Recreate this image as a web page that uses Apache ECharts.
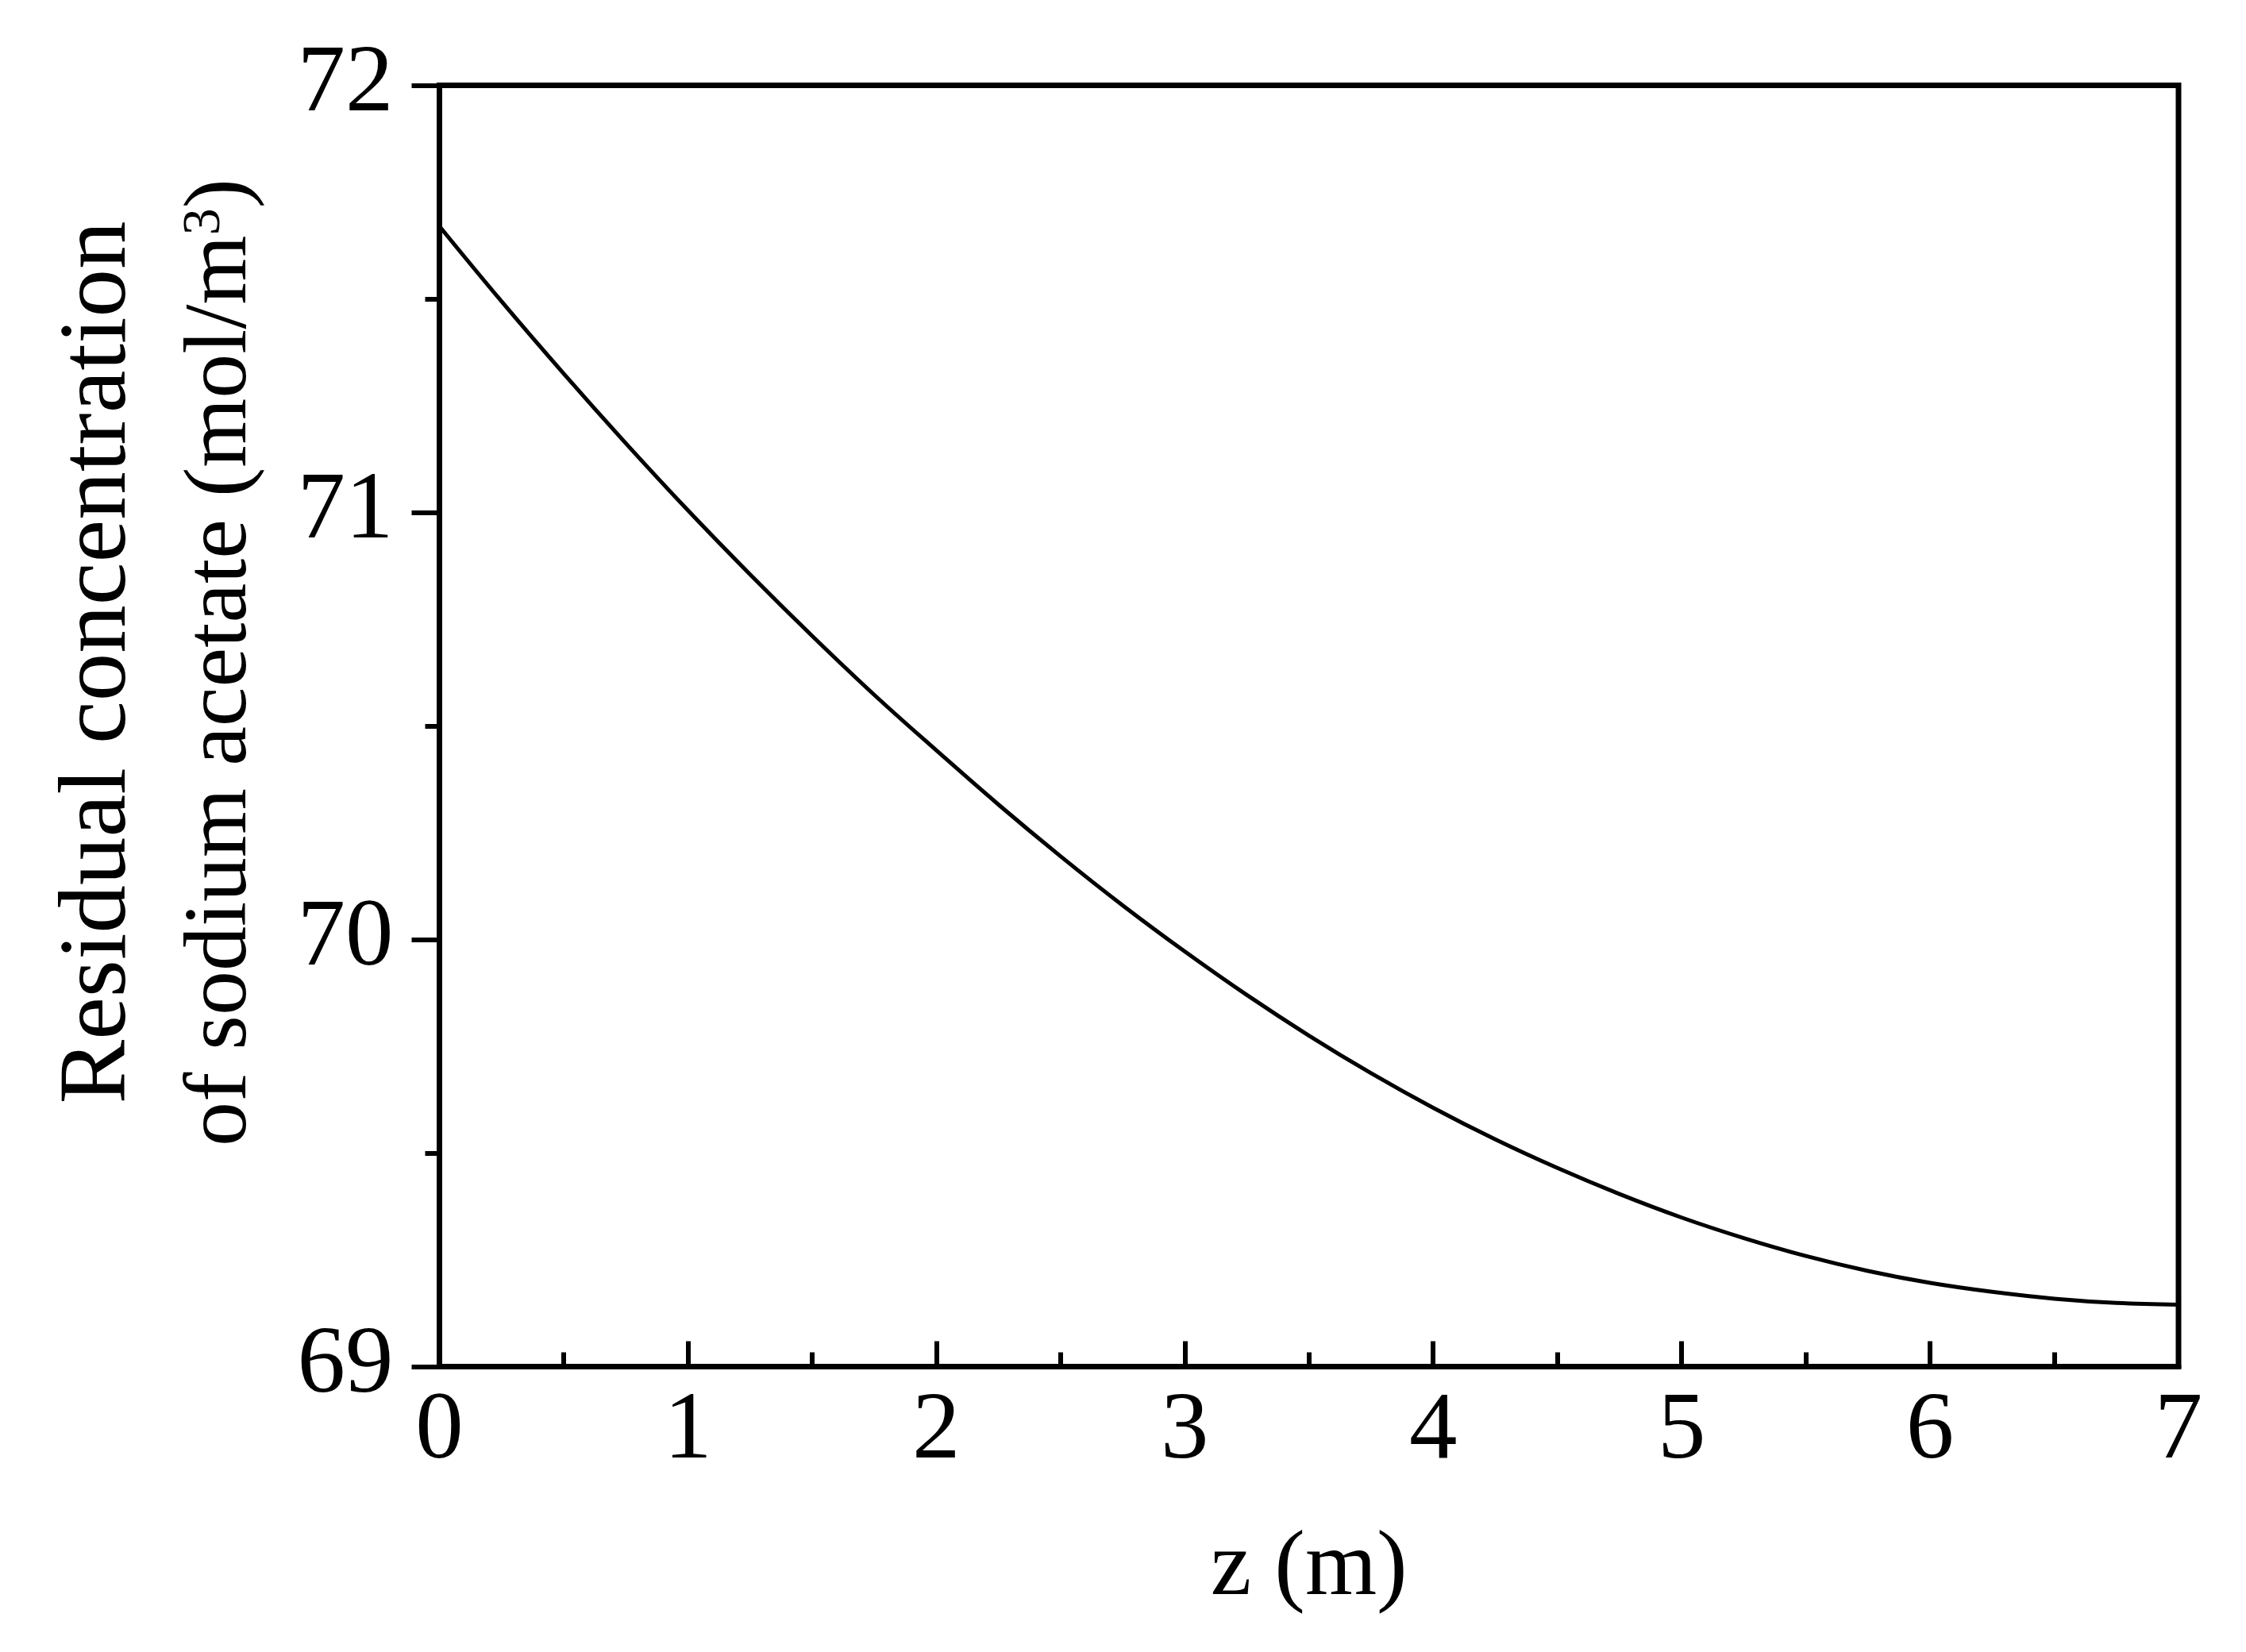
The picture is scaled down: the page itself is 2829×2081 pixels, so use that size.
<!DOCTYPE html>
<html>
<head>
<meta charset="utf-8">
<script src="https://cdn.jsdelivr.net/npm/echarts@6/dist/echarts.min.js"></script>
<style>
html,body{margin:0;padding:0;background:#fff;}
#main{width:2829px;height:2081px;}
</style>
</head>
<body>
<div id="main"></div>
<script>
// Data
var zValues = [0, 0.25, 0.5, 0.75, 1.0, 1.25, 1.5, 1.75, 2.0, 2.25, 2.5, 2.75, 3.0, 3.25, 3.5, 3.75, 4.0, 4.25, 4.5, 4.75, 5.0, 5.25, 5.5, 5.75, 6.0, 6.25, 6.5, 6.75, 7.0];
var concValues = [71.670, 71.494, 71.325, 71.162, 71.005, 70.855, 70.711, 70.573, 70.443, 70.316, 70.195, 70.080, 69.972, 69.870, 69.775, 69.687, 69.606, 69.532, 69.465, 69.404, 69.349, 69.301, 69.259, 69.224, 69.196, 69.175, 69.159, 69.149, 69.145];
var xTickRange = [0, 7];
var yTickRange = [69, 72];

var seriesData = zValues.map(function (z, i) { return [z, concValues[i]]; });

var FONT = '"Liberation Serif", "Times New Roman", serif';
var chart = echarts.init(document.getElementById('main'), null, {renderer: 'canvas'});
chart.setOption({
  backgroundColor: '#ffffff',
  animation: false,
  grid: {
    left: 553.5, right: 85, top: 107.5, bottom: 359.5,
    show: true, borderColor: '#000', borderWidth: 7, backgroundColor: 'transparent'
  },
  xAxis: {
    type: 'value',
    min: xTickRange[0], max: xTickRange[1], interval: 1,
    name: 'z (m)',
    nameLocation: 'middle',
    nameGap: 198,
    nameTextStyle: {fontFamily: FONT, fontSize: 116, color: '#000'},
    axisLine: {show: true, lineStyle: {color: '#000', width: 7}},
    axisTick: {show: true, inside: true, length: 32, lineStyle: {color: '#000', width: 6}},
    minorTick: {show: true, splitNumber: 2, length: 18, lineStyle: {color: '#000', width: 6}},
    axisLabel: {fontFamily: FONT, fontSize: 121, color: '#000', margin: 22},
    splitLine: {show: false}
  },
  yAxis: {
    type: 'value',
    min: yTickRange[0], max: yTickRange[1], interval: 1,
    name: '{a|Residual concentration}\n{b|of sodium acetate (mol/m}{s|3}{b|)}',
    nameLocation: 'middle',
    nameRotate: 90,
    nameGap: 196,
    nameTextStyle: {
      fontFamily: FONT, fontSize: 121, color: '#000', lineHeight: 155,
      padding: [0, 0, 0, 160],
      rich: {
        a: {fontFamily: FONT, fontSize: 121, color: '#000', lineHeight: 155},
        b: {fontFamily: FONT, fontSize: 112, color: '#000', lineHeight: 155},
        s: {fontFamily: FONT, fontSize: 68, color: '#000', lineHeight: 155, verticalAlign: 'top', padding: [22, 0, 0, 0]}
      }
    },
    axisLine: {show: true, lineStyle: {color: '#000', width: 7}},
    axisTick: {show: true, inside: false, length: 35, lineStyle: {color: '#000', width: 6}},
    minorTick: {show: true, splitNumber: 2, length: 18, lineStyle: {color: '#000', width: 6}},
    axisLabel: {fontFamily: FONT, fontSize: 121, color: '#000', margin: 58},
    splitLine: {show: false}
  },
  series: [{
    type: 'line',
    data: seriesData,
    smooth: 0.4,
    showSymbol: false,
    symbol: 'none',
    lineStyle: {color: '#000', width: 5},
    clip: true
  }]
});
</script>
</body>
</html>
